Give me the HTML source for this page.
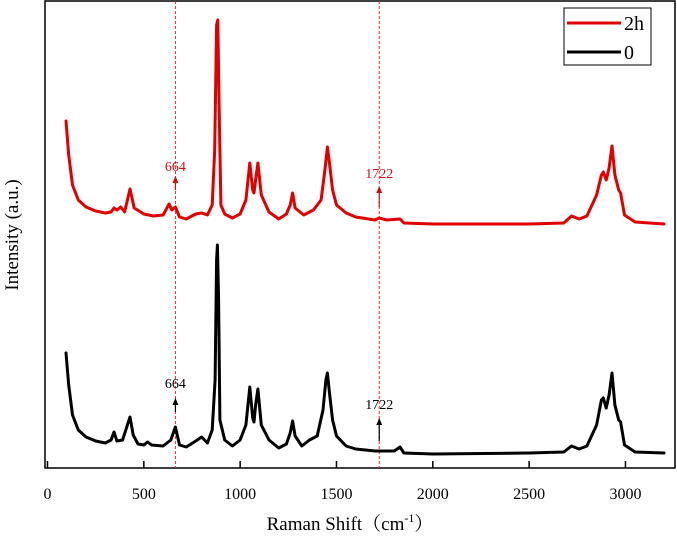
<!DOCTYPE html>
<html><head><meta charset="utf-8"><style>
body{margin:0;background:#fff}
svg{display:block;font-family:"Liberation Serif",serif}
</style></head><body>
<svg id="chart" width="677" height="536" viewBox="0 0 677 536" xmlns="http://www.w3.org/2000/svg">
<rect x="45" y="1" width="630" height="467" fill="none" stroke="#000" stroke-width="1.5"/>
<g id="ticks"></g>
<g id="series"></g>
<text transform="translate(18,235) rotate(-90)" text-anchor="middle" font-size="19">Intensity (a.u.)</text>
<text x="350" y="530" text-anchor="middle" font-size="19" font-family="Liberation Serif, Noto Serif CJK SC, serif">Raman Shift（cm<tspan font-size="12" dy="-8">-1</tspan><tspan dy="8">）</tspan></text>
<g>
<rect x="564" y="8" width="87" height="57" fill="#fff" stroke="#000" stroke-width="1"/>
<line x1="567" y1="23" x2="621" y2="23" stroke="#e00000" stroke-width="3"/>
<text x="624" y="30" font-size="20">2h</text>
<line x1="567" y1="52" x2="621" y2="52" stroke="#000" stroke-width="3"/>
<text x="624" y="59" font-size="20">0</text>
</g>
</svg>
<script>
const xTicks=[0,500,1000,1500,2000,2500,3000];
const markers=[664,1722];
const shift0=[96,110,130,160,200,250,300,330,345,360,390,415,428,445,470,500,520,540,600,640,664,685,720,770,800,830,855,870,878,882,888,895,920,960,1000,1030,1050,1065,1072,1080,1092,1110,1150,1200,1240,1260,1272,1285,1320,1360,1400,1430,1445,1453,1465,1480,1500,1550,1600,1700,1800,1830,1850,2000,2500,2680,2720,2760,2800,2850,2875,2885,2900,2915,2930,2945,2965,2975,2995,3050,3200];
const int0=[115,83,53,38,31,27,25,28,36,27,28,43,51,33,24,23,26,23,22,28,41,23,21,27,31,25,38,88,208,223,168,48,28,22,28,43,81,50,46,63,79,43,28,20,24,35,47,32,22,28,32,58,88,95,73,48,32,22,19,17,17,21,15,14,15,16,22,19,22,43,68,70,60,73,95,63,48,46,23,16,15];
const shift2h=[96,110,130,160,200,250,300,330,345,360,380,400,428,450,500,550,600,631,645,664,685,720,770,800,830,855,868,878,884,890,900,920,960,1000,1030,1050,1065,1072,1080,1092,1110,1150,1200,1240,1260,1272,1285,1330,1380,1420,1440,1453,1465,1480,1500,1550,1600,1700,1722,1760,1830,1850,2000,2500,2680,2720,2760,2800,2850,2875,2885,2900,2915,2930,2945,2965,2975,2995,3050,3200];
const int2h=[347,313,283,268,261,257,255,256,260,258,261,256,279,260,254,252,253,264,258,261,251,249,254,255,253,263,318,443,448,368,263,254,250,254,268,305,278,275,288,305,273,256,249,254,263,275,260,253,258,268,298,321,303,278,263,255,251,248,250,248,249,245,244,244,245,252,249,252,273,293,296,288,300,322,293,278,275,253,246,244];

function xs(v){return 47.5+v*0.19265;}
function ys(v){return 468-v;}
const NS="http://www.w3.org/2000/svg";
const tg=document.getElementById('ticks');
xTicks.forEach(t=>{
  const l=document.createElementNS(NS,'line');
  
  
  l.setAttribute('x1',xs(t));l.setAttribute('x2',xs(t));
  l.setAttribute('y1',468);l.setAttribute('y2',461);
  l.setAttribute('stroke','#000');l.setAttribute('stroke-width','1.5');
  tg.appendChild(l);
  const tx=document.createElementNS(NS,'text');
  
  
  tx.setAttribute('x',xs(t));tx.setAttribute('y',499);
  tx.setAttribute('text-anchor','middle');tx.setAttribute('font-size','16');
  tx.textContent=t;
  tg.appendChild(tx);
});
const sg=document.getElementById('series');
markers.forEach(m=>{
  const l=document.createElementNS(NS,'line');
  
  
  l.setAttribute('x1',xs(m));l.setAttribute('x2',xs(m));
  l.setAttribute('y1',1);l.setAttribute('y2',468);
  l.setAttribute('stroke','#e03030');l.setAttribute('stroke-width','1');
  l.setAttribute('stroke-dasharray','3,2');
  sg.appendChild(l);
});
function drawSeries(sx,sv,color,name){
  const p=document.createElementNS(NS,'polyline');
  
  
  p.setAttribute('points',sx.map((s,i)=>xs(s).toFixed(1)+','+ys(sv[i]).toFixed(1)).join(' '));
  p.setAttribute('fill','none');p.setAttribute('stroke',color);
  p.setAttribute('stroke-width','3');p.setAttribute('stroke-linejoin','round');p.setAttribute('stroke-linecap','round');
  sg.appendChild(p);
}
drawSeries(shift2h,int2h,'#e00000','series-2h');
drawSeries(shift0,int0,'#000','series-0');
function annot(m,yTop,yBot,yText,color,name){
  const x=xs(m);
  const l=document.createElementNS(NS,'line');
  
  
  l.setAttribute('x1',x);l.setAttribute('x2',x);l.setAttribute('y1',yBot);l.setAttribute('y2',yTop+5);
  l.setAttribute('stroke',color);l.setAttribute('stroke-width','1.2');
  sg.appendChild(l);
  const h=document.createElementNS(NS,'polygon');
  
  
  h.setAttribute('points',`${x},${yTop} ${x-3},${yTop+7} ${x+3},${yTop+7}`);
  h.setAttribute('fill',color);
  sg.appendChild(h);
  const t=document.createElementNS(NS,'text');
  
  
  t.setAttribute('x',x);t.setAttribute('y',yText);
  t.setAttribute('text-anchor','middle');t.setAttribute('font-size','14');t.setAttribute('fill',color);
  t.textContent=m;
  sg.appendChild(t);
}
annot(markers[0],176,190,171,'#d01010','annot-664-2h');
annot(markers[1],186,207,178,'#d01010','annot-1722-2h');
annot(markers[0],398,412,388,'#000','annot-664-0');
annot(markers[1],418,441,409,'#000','annot-1722-0');
</script>
</body></html>
